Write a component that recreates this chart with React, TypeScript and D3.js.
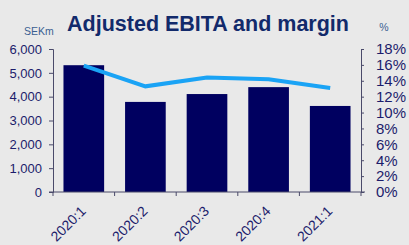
import React, { useEffect, useRef } from "react";
import * as d3 from "d3";

const quarters = ["2020:1", "2020:2", "2020:3", "2020:4", "2021:1"];
const ebita = [5320, 3780, 4110, 4400, 3610];
const margin = [15.9, 13.3, 14.4, 14.2, 13.1];
const leftTicks = [0, 1000, 2000, 3000, 4000, 5000, 6000];
const rightTicks = [0, 2, 4, 6, 8, 10, 12, 14, 16, 18];

const W = 409;
const H = 245;

const App: React.FC = () => {
  const svgRef = useRef<SVGSVGElement | null>(null);

  useEffect(() => {
    if (!svgRef.current) return;
    const svg = d3.select(svgRef.current);
    svg.selectAll("*").remove();

    const font = "Liberation Sans, Arial, sans-serif";
    const textColor = "#1c1c6b";
    const axisColor = "#4a4a6a";

    svg.append("rect").attr("width", W).attr("height", H).attr("fill", "#e9e9e9");

    const x0 = 53, x1 = 361, yTop = 49, yBot = 192;

    const x = d3.scaleBand().domain(quarters).range([x0, x1]).paddingInner(0.34).paddingOuter(0.17);
    const xc = d3.scaleBand().domain(quarters).range([x0, x1]);
    const yL = d3.scaleLinear().domain([0, 6000]).range([yBot, yTop]);
    const yR = d3.scaleLinear().domain([0, 18]).range([yBot, yTop]);

    // bars
    svg.append("g")
      .selectAll("rect")
      .data(ebita)
      .enter()
      .append("rect")
      .attr("x", (_, i) => x(quarters[i])!)
      .attr("y", d => yL(d))
      .attr("width", x.bandwidth())
      .attr("height", d => yBot - yL(d))
      .attr("fill", "#000060");

    // margin line
    const line = d3.line<number>()
      .x((_, i) => xc(quarters[i])! + xc.bandwidth() / 2)
      .y(d => yR(d));
    svg.append("path")
      .datum(margin)
      .attr("d", line)
      .attr("fill", "none")
      .attr("stroke", "#1aa3f5")
      .attr("stroke-width", 4);

    // left axis
    const gl = svg.append("g").attr("transform", `translate(${x0},0)`)
      .call(d3.axisLeft(yL).tickValues(leftTicks).tickSize(4).tickPadding(7)
        .tickFormat(d => d3.format(",")(d as number)));
    gl.select(".domain").attr("stroke", axisColor);
    gl.selectAll(".tick line").attr("stroke", axisColor);
    gl.selectAll("text").attr("fill", textColor).attr("font-family", font).attr("font-size", 13);

    // right axis
    const gr = svg.append("g").attr("transform", `translate(${x1},0)`)
      .call(d3.axisRight(yR).tickValues(rightTicks).tickSize(3).tickPadding(12)
        .tickFormat(d => `${d}%`));
    gr.select(".domain").attr("stroke", axisColor);
    gr.selectAll(".tick line").attr("stroke", axisColor);
    gr.selectAll("text").attr("fill", textColor).attr("font-family", font).attr("font-size", 15);

    // bottom axis
    const gb = svg.append("g").attr("transform", `translate(0,${yBot})`);
    gb.append("line").attr("x1", x0 - 4).attr("x2", x1 + 4).attr("stroke", axisColor);
    gb.selectAll("line.t")
      .data(d3.range(quarters.length + 1))
      .enter()
      .append("line")
      .attr("class", "t")
      .attr("x1", i => x0 + i * xc.step())
      .attr("x2", i => x0 + i * xc.step())
      .attr("y1", 0)
      .attr("y2", 4)
      .attr("stroke", axisColor);
    gb.selectAll("text")
      .data(quarters)
      .enter()
      .append("text")
      .attr("transform", d => `translate(${xc(d)! + xc.bandwidth() / 2 + 3},${20}) rotate(-45)`)
      .attr("text-anchor", "end")
      .attr("font-family", font)
      .attr("font-size", 14)
      .attr("fill", textColor)
      .text(d => d);

    // title and unit labels
    svg.append("text")
      .attr("x", 208).attr("y", 31)
      .attr("text-anchor", "middle")
      .attr("font-family", font)
      .attr("font-weight", "bold")
      .attr("font-size", 21.5)
      .attr("fill", "#122a6b")
      .text("Adjusted EBITA and margin");
    svg.append("text")
      .attr("x", 39).attr("y", 35)
      .attr("text-anchor", "middle")
      .attr("font-family", font)
      .attr("font-size", 10.5)
      .attr("fill", "#3a5f92")
      .text("SEKm");
    svg.append("text")
      .attr("x", 384).attr("y", 31)
      .attr("text-anchor", "middle")
      .attr("font-family", font)
      .attr("font-size", 10.5)
      .attr("fill", "#3a5f92")
      .text("%");
  }, []);

  return <svg ref={svgRef} width={W} height={H} style={{ position: "absolute", left: 0, top: 0 }}></svg>;
};

export default App;
